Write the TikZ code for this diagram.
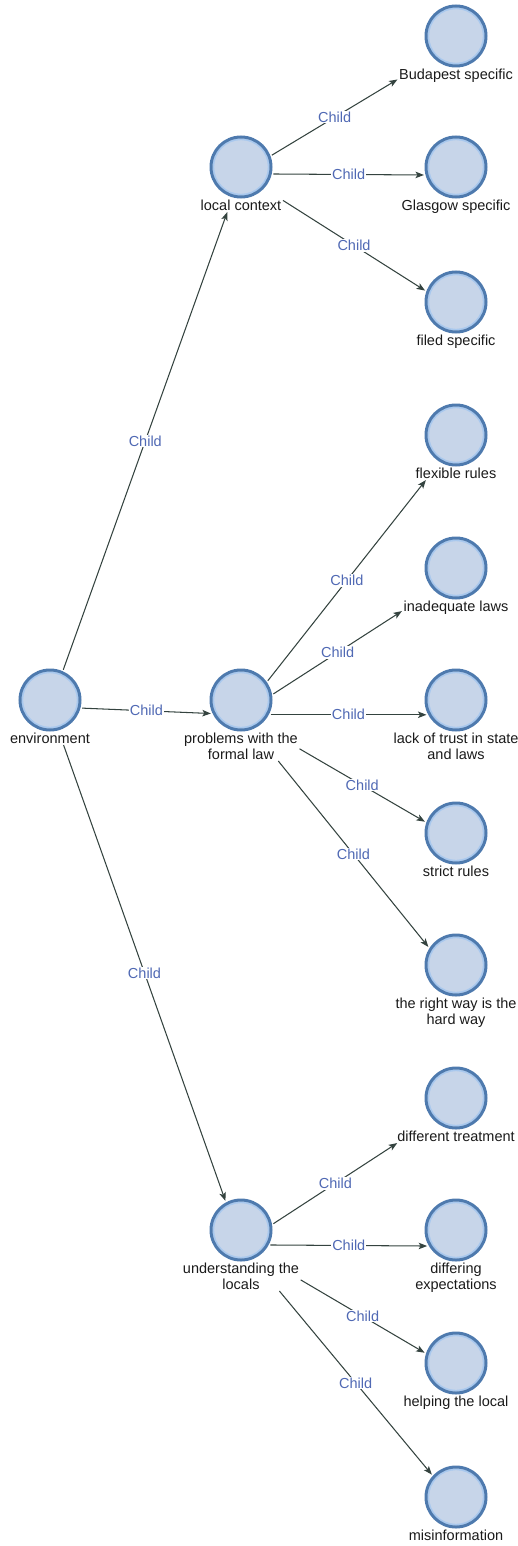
\documentclass[tikz,border=0pt]{standalone}
\usepackage{fontspec}
\setmainfont{Liberation Sans}
\usetikzlibrary{fit,arrows.meta,intersections}
\definecolor{circfill}{HTML}{C7D5E9}
\definecolor{circline}{HTML}{4E7AAE}
\definecolor{circinner}{HTML}{A8C8EE}
\definecolor{edgecol}{HTML}{34433F}
\definecolor{childcol}{HTML}{5069B4}
\definecolor{textcol}{HTML}{1A1A1A}
\tikzset{
  circ/.style={circle, minimum size=60pt, inner sep=0pt, fill=circfill, draw=circline, line width=3pt,
    path picture={\draw[circinner, line width=1.5pt] (path picture bounding box.center) circle (27.6pt);}},
  lab/.style={anchor=north, align=center, inner sep=1.5pt, text=textcol,
    font=\fontsize{14.5}{16}\selectfont},
  box/.style={rectangle, inner sep=0pt, draw=none},
  edgeline/.style={draw=edgecol, line width=1.05pt, -{Stealth[length=8.5pt,width=6.5pt,inset=2pt]}},
  childlab/.style={midway, fill=white, inner sep=0.8pt, text=childcol,
    font=\fontsize{14.5}{16}\selectfont}
}
% a vertex: circle + label, a fit box round both, and the outline of the pair
\newcommand\mkvertex[4]{%
  \node[circ] (#1c) at (#2,#3) {};
  \node[lab] (#1l) at (#2,#3+31) {#4};
  \node[box, fit=(#1c)(#1l)] (#1) {};
  \path[name path global=#1out] (#2,#3) circle (33pt)
       (#1l.south west) rectangle (#1l.north east);
}
% a connector from vertex #1 to vertex #2, ending on the outlines of circle + label
\newcommand\mkedge[2]{%
  \path[name path=ln] (#1.center) -- (#2.center);
  \path[name intersections={of=ln and #1out, sort by=ln, name=sa, total=\nsa}]
       (sa-\nsa) coordinate (#1-#2-from);
  \path[name intersections={of=ln and #2out, sort by=ln, name=sb}]
       (sb-1) coordinate (#1-#2-to);
  \draw[edgeline] (#1-#2-from) -- node[childlab] {Child} (#1-#2-to);
}
\begin{document}
\begin{tikzpicture}[x=1pt,y=-1pt]
\useasboundingbox (0,0) rectangle (518,1546);
% left / middle column
\mkvertex{env}{50}{700}{environment}
\mkvertex{lc}{241}{167}{local context}
\mkvertex{pf}{241}{700}{problems with the\\formal law}
\mkvertex{ul}{241}{1230}{understanding the\\locals}
% right column
\mkvertex{bud}{456}{36}{Budapest specific}
\mkvertex{gla}{456}{167}{Glasgow specific}
\mkvertex{fil}{456}{302}{filed specific}
\mkvertex{flx}{456}{435}{flexible rules}
\mkvertex{ina}{456}{568}{inadequate laws}
\mkvertex{lac}{456}{700}{lack of trust in state\\and laws}
\mkvertex{str}{456}{833}{strict rules}
\mkvertex{rig}{456}{965}{the right way is the\\hard way}
\mkvertex{dif}{456}{1098}{different treatment}
\mkvertex{dex}{456}{1230}{differing\\expectations}
\mkvertex{hel}{456}{1363}{helping the local}
\mkvertex{mis}{456}{1497}{misinformation}
% connectors
\mkedge{env}{lc}
\mkedge{env}{pf}
\mkedge{env}{ul}
\mkedge{lc}{bud}
\mkedge{lc}{gla}
\mkedge{lc}{fil}
\mkedge{pf}{flx}
\mkedge{pf}{ina}
\mkedge{pf}{lac}
\mkedge{pf}{str}
\mkedge{pf}{rig}
\mkedge{ul}{dif}
\mkedge{ul}{dex}
\mkedge{ul}{hel}
\mkedge{ul}{mis}
\end{tikzpicture}
\end{document}
